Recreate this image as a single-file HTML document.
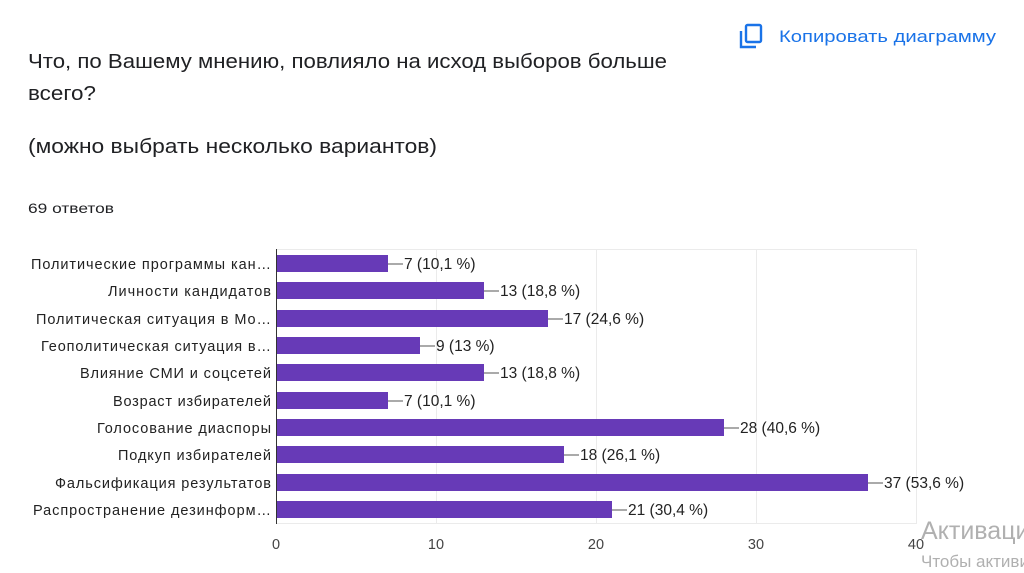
<!DOCTYPE html>
<html><head><meta charset="utf-8"><style>
html,body{margin:0;padding:0;background:#fff;width:1024px;height:573px;overflow:hidden}
svg{display:block}
text{font-family:"Liberation Sans",sans-serif}
</style></head><body>
<svg width="1024" height="573" viewBox="0 0 1024 573">
<rect width="1024" height="573" fill="#fff"/>
<text x="28" y="68" font-size="20" fill="#202124" textLength="639" lengthAdjust="spacingAndGlyphs">Что, по Вашему мнению, повлияло на исход выборов больше</text>
<text x="28" y="100" font-size="20" fill="#202124" textLength="68" lengthAdjust="spacingAndGlyphs">всего?</text>
<text x="28" y="153" font-size="20" fill="#202124" textLength="409" lengthAdjust="spacingAndGlyphs">(можно выбрать несколько вариантов)</text>
<text x="28" y="213" font-size="14" fill="#202124" textLength="86" lengthAdjust="spacingAndGlyphs">69 ответов</text>
<g fill="none" stroke="#1a73e8" stroke-width="2.4">
<rect x="746" y="25" width="15" height="17" rx="1.5"/>
<path d="M741 31 V47 H756"/>
</g>
<text x="779" y="42" font-size="17" fill="#1a73e8" textLength="217" lengthAdjust="spacingAndGlyphs">Копировать диаграмму</text>
<g stroke="#ebebeb" stroke-width="1">
<line x1="436.5" y1="249" x2="436.5" y2="524"/>
<line x1="596.5" y1="249" x2="596.5" y2="524"/>
<line x1="756.5" y1="249" x2="756.5" y2="524"/>
<line x1="916.5" y1="249" x2="916.5" y2="524"/>
<line x1="276" y1="249.5" x2="916" y2="249.5"/>
<line x1="276" y1="523.5" x2="916" y2="523.5"/>
</g>
<g font-size="14.5" fill="#222" lengthAdjust="spacingAndGlyphs">
<text x="31" y="269" textLength="240">Политические программы кан…</text>
<text x="108" y="296" textLength="163">Личности кандидатов</text>
<text x="36" y="324" textLength="235">Политическая ситуация в Мо…</text>
<text x="41" y="351" textLength="230">Геополитическая ситуация в…</text>
<text x="80" y="378" textLength="191">Влияние СМИ и соцсетей</text>
<text x="113" y="406" textLength="158">Возраст избирателей</text>
<text x="97" y="433" textLength="174">Голосование диаспоры</text>
<text x="118" y="460" textLength="153">Подкуп избирателей</text>
<text x="55" y="488" textLength="216">Фальсификация результатов</text>
<text x="33" y="515" textLength="238">Распространение дезинформ…</text>
</g>
<g fill="#673ab7">
<rect x="276" y="255" width="112" height="17"/>
<rect x="276" y="282" width="208" height="17"/>
<rect x="276" y="310" width="272" height="17"/>
<rect x="276" y="337" width="144" height="17"/>
<rect x="276" y="364" width="208" height="17"/>
<rect x="276" y="392" width="112" height="17"/>
<rect x="276" y="419" width="448" height="17"/>
<rect x="276" y="446" width="288" height="17"/>
<rect x="276" y="474" width="592" height="17"/>
<rect x="276" y="501" width="336" height="17"/>
</g>
<g stroke="#555" stroke-width="1">
<line x1="388" y1="264" x2="403" y2="264"/>
<line x1="484" y1="291" x2="499" y2="291"/>
<line x1="548" y1="319" x2="563" y2="319"/>
<line x1="420" y1="346" x2="435" y2="346"/>
<line x1="484" y1="373" x2="499" y2="373"/>
<line x1="388" y1="401" x2="403" y2="401"/>
<line x1="724" y1="428" x2="739" y2="428"/>
<line x1="564" y1="455" x2="579" y2="455"/>
<line x1="868" y1="483" x2="883" y2="483"/>
<line x1="612" y1="510" x2="627" y2="510"/>
</g>
<g font-size="15.5" fill="#222">
<text x="404" y="269">7 (10,1 %)</text>
<text x="500" y="296">13 (18,8 %)</text>
<text x="564" y="324">17 (24,6 %)</text>
<text x="436" y="351">9 (13 %)</text>
<text x="500" y="378">13 (18,8 %)</text>
<text x="404" y="406">7 (10,1 %)</text>
<text x="740" y="433">28 (40,6 %)</text>
<text x="580" y="460">18 (26,1 %)</text>
<text x="884" y="488">37 (53,6 %)</text>
<text x="628" y="515">21 (30,4 %)</text>
</g>
<line x1="276.5" y1="249" x2="276.5" y2="524" stroke="#333" stroke-width="1"/>
<g font-size="14.5" fill="#444" text-anchor="middle">
<text x="276" y="549">0</text>
<text x="436" y="549">10</text>
<text x="596" y="549">20</text>
<text x="756" y="549">30</text>
<text x="916" y="549">40</text>
</g>
<text x="921" y="539" font-size="25" fill="#b0b0b0">Активация</text>
<text x="921" y="567" font-size="17" fill="#b0b0b0">Чтобы активировать</text>
</svg>
</body></html>
